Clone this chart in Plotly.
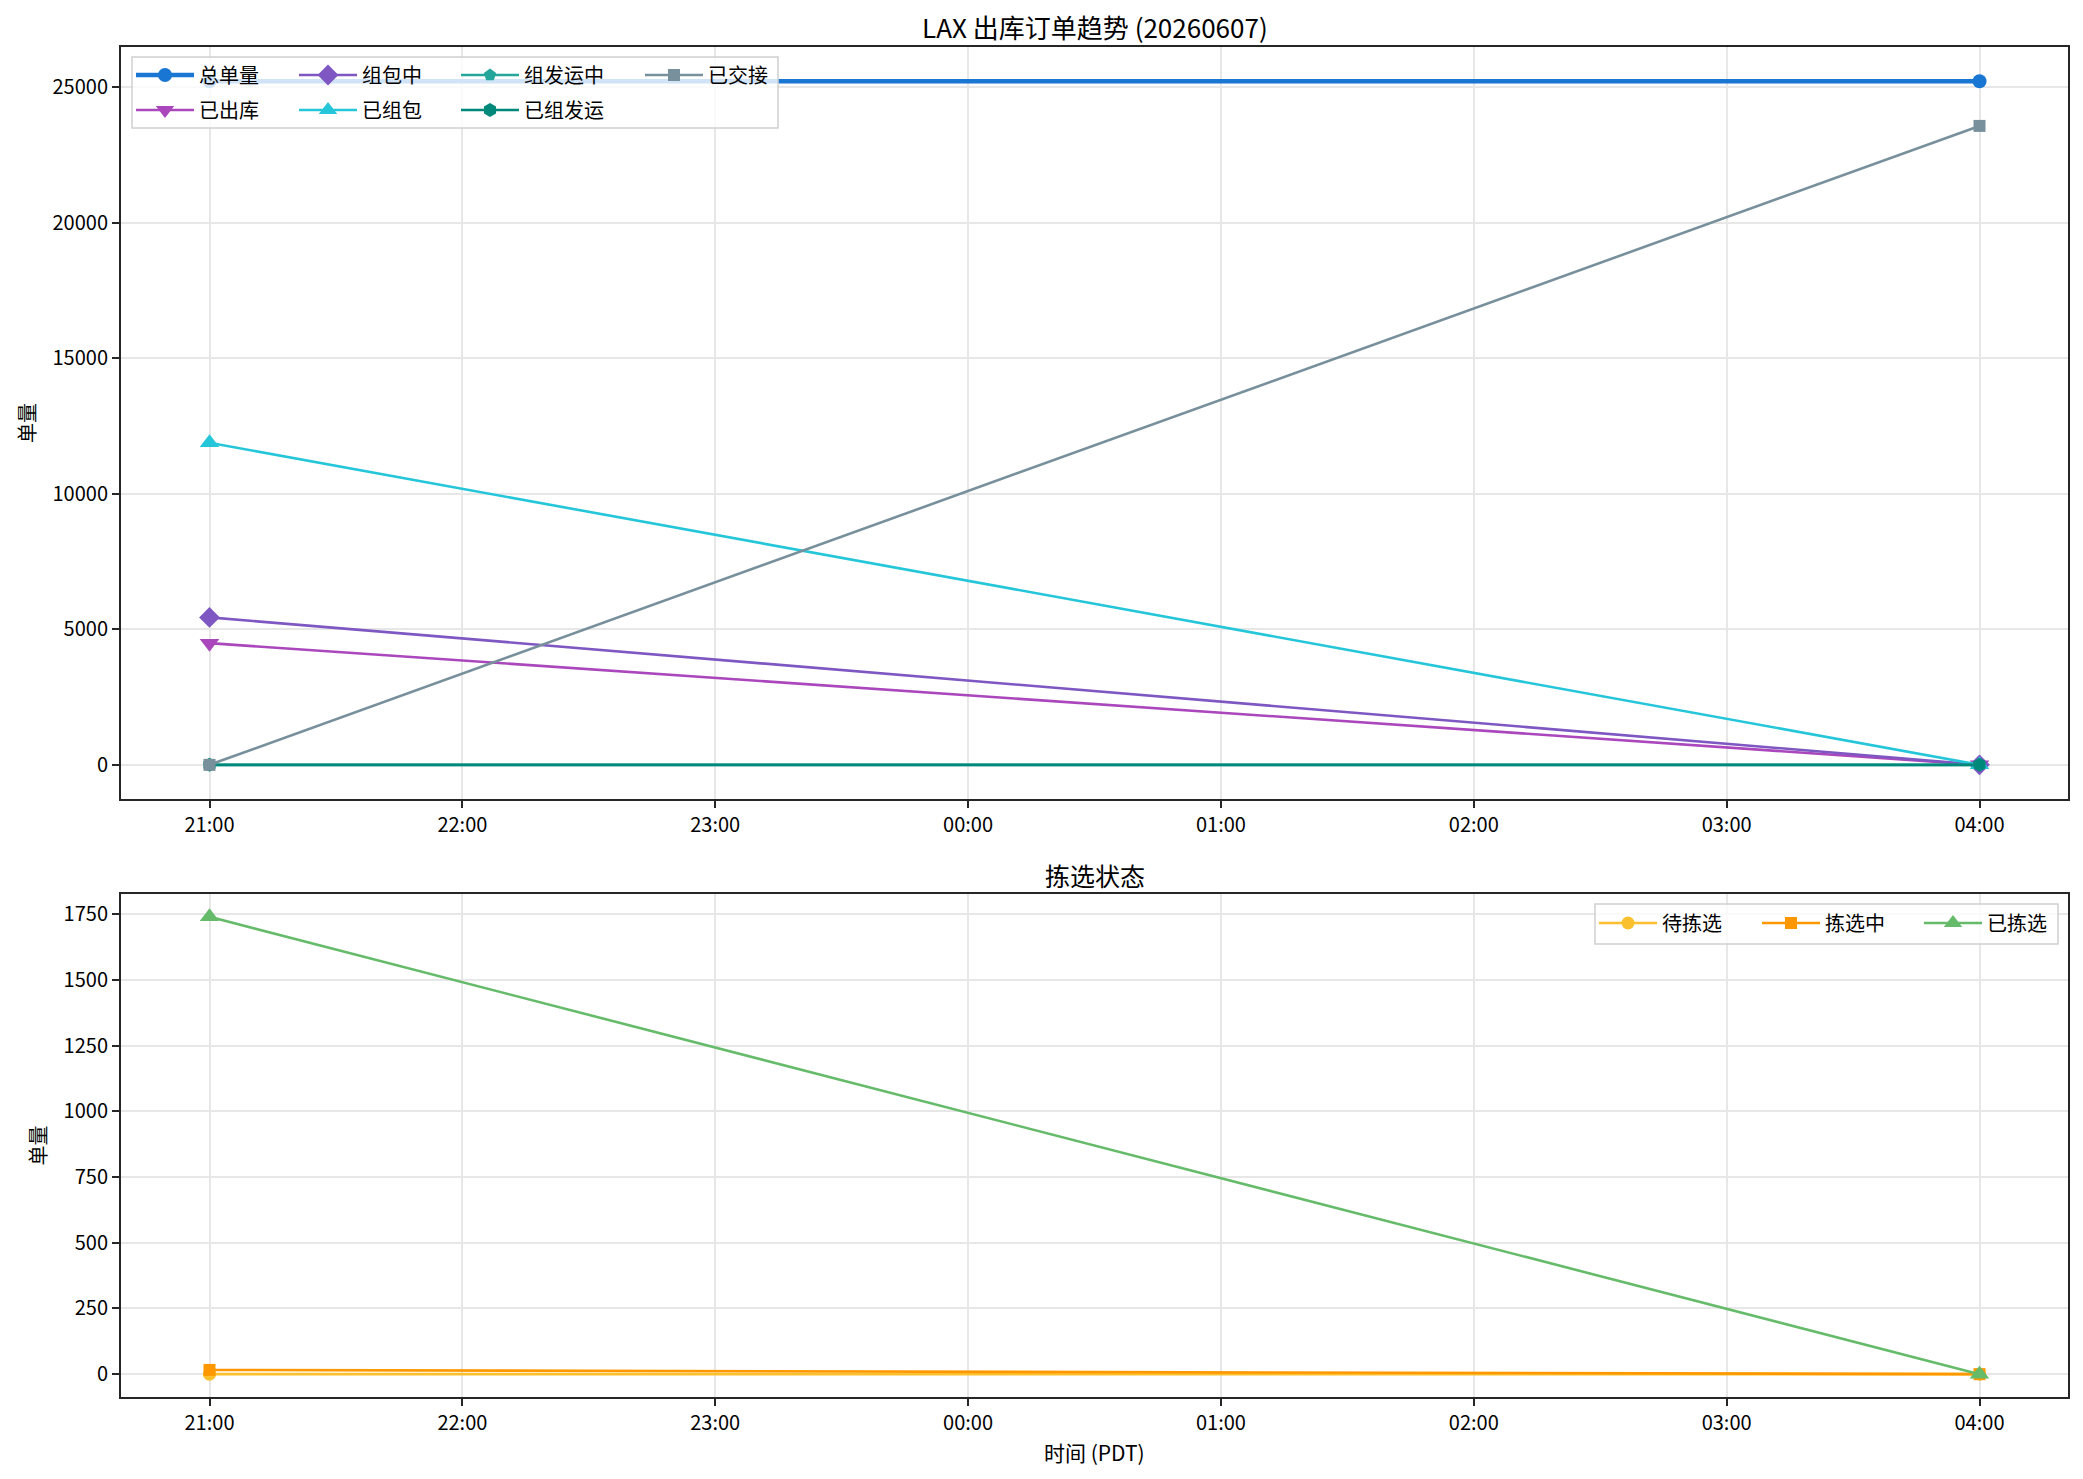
import plotly.graph_objects as go
from plotly.subplots import make_subplots

# ---- data ----
times = ["2026-06-07 21:00", "2026-06-08 04:00"]

top_names = ["总单量", "已出库", "组包中", "已组包", "组发运中", "已组发运", "已交接"]
total_orders = [25220, 25220]
shipped_out = [4490, 0]
packing = [5440, 0]
packed = [11880, 0]
group_shipping = [0, 0]
group_shipped = [0, 0]
handed_over = [0, 23570]

pick_names = ["待拣选", "拣选中", "已拣选"]
to_pick = [0, 0]
picking = [16, 0]
picked = [1740, 0]

# ---- styling ----
W, H = 2083, 1479
AX_L, AX_R, AX_T, AX_B = 121, 2068, 47, 1397
FONT = "Noto Sans CJK SC"
TEXT = "#000000"
GRID = "#e7e7e7"
FRAME = "#262626"


def px_x(p):
    return (p - AX_L) / (AX_R - AX_L)


def px_y(p):
    return (AX_B - p) / (AX_B - AX_T)


top_series = [
    (total_orders, "#1976D2", "circle", 4.5, 14),
    (shipped_out, "#AB47BC", "triangle-down", 2.6, 17),
    (packing, "#7E57C2", "diamond", 2.6, 16),
    (packed, "#26C6DA", "triangle-up", 2.6, 17),
    (group_shipping, "#26A69A", "pentagon", 2.6, 13),
    (group_shipped, "#00897B", "hexagon", 2.6, 14),
    (handed_over, "#78909C", "square", 2.6, 12),
]
pick_series = [
    (to_pick, "#FBC02D", "circle", 2.6, 13),
    (picking, "#FF9800", "square", 2.6, 12),
    (picked, "#66BB6A", "triangle-up", 2.6, 17),
]

# legend slots (symbol start px, row center px), matplotlib fills columns first
top_slots = [(139, 75), (139, 110), (302, 75), (302, 110), (464, 75), (464, 110), (648, 75)]
pick_slots = [(1602, 923), (1765, 923), (1927, 923)]

fig = make_subplots(rows=2, cols=1)

legends = {}
k = 0
for (vals, color, sym, lw, ms), name, slot in zip(top_series, top_names, top_slots):
    k += 1
    lname = "legend" if k == 1 else f"legend{k}"
    fig.add_trace(
        go.Scatter(
            x=times, y=vals, name=name, mode="lines+markers",
            line=dict(color=color, width=lw),
            marker=dict(symbol=sym, size=ms, color=color),
            legend=lname,
        ),
        row=1, col=1,
    )
    legends[lname] = slot

for (vals, color, sym, lw, ms), name, slot in zip(pick_series, pick_names, pick_slots):
    k += 1
    lname = f"legend{k}"
    fig.add_trace(
        go.Scatter(
            x=times, y=vals, name=name, mode="lines+markers",
            line=dict(color=color, width=lw),
            marker=dict(symbol=sym, size=ms, color=color),
            legend=lname,
        ),
        row=2, col=1,
    )
    legends[lname] = slot

for lname, (sx, sy) in legends.items():
    fig.update_layout({
        lname: dict(
            x=px_x(sx - 8), y=px_y(sy), xanchor="left", yanchor="middle",
            xref="paper", yref="paper",
            bgcolor="rgba(0,0,0,0)", borderwidth=0,
            font=dict(family=FONT, size=20, color=TEXT),
            itemwidth=58,
        )
    })

axis_common = dict(
    showline=True, mirror=True, linecolor=FRAME, linewidth=2,
    showgrid=True, gridcolor=GRID, gridwidth=1.5,
    zeroline=False, ticks="outside", ticklen=7, tickwidth=1.7, tickcolor=FRAME,
    tickfont=dict(family=FONT, size=20, color=TEXT),
)

x_range = ["2026-06-07 20:39", "2026-06-08 04:21"]
for r in (1, 2):
    fig.update_xaxes(
        type="date", range=x_range, dtick=3600000, tickformat="%H:%M",
        tick0="2026-06-07 21:00", row=r, col=1, **axis_common,
    )

fig.update_yaxes(range=[-1260, 26481], dtick=5000, tickformat="d", row=1, col=1, **axis_common)
fig.update_yaxes(range=[-87, 1827], dtick=250, tickformat="d", row=2, col=1, **axis_common)
fig.update_yaxes(
    title=dict(text="单量", font=dict(family=FONT, size=20, color=TEXT), standoff=12),
)

fig.update_layout(
    xaxis=dict(domain=[0, 1], anchor="y"),
    yaxis=dict(domain=[px_y(799), 1]),
    xaxis2=dict(domain=[0, 1], anchor="y2"),
    yaxis2=dict(domain=[0, px_y(894)]),
)

# legend frames (drawn over the lines, like matplotlib's translucent legend box)
fig.add_shape(
    type="rect", xref="paper", yref="paper",
    x0=px_x(132), x1=px_x(778), y0=px_y(128), y1=px_y(57),
    fillcolor="rgba(255,255,255,0.8)", line=dict(color="#d0d0d0", width=1.5),
    layer="above",
)
fig.add_shape(
    type="rect", xref="paper", yref="paper",
    x0=px_x(1595), x1=px_x(2058), y0=px_y(944), y1=px_y(904),
    fillcolor="rgba(255,255,255,0.8)", line=dict(color="#d0d0d0", width=1.5),
    layer="above",
)

fig.add_annotation(
    text="LAX 出库订单趋势 (20260607)", xref="paper", yref="paper",
    x=0.5, y=px_y(27), xanchor="center", yanchor="middle", showarrow=False,
    font=dict(family=FONT, size=26, color=TEXT),
)
fig.add_annotation(
    text="拣选状态", xref="paper", yref="paper",
    x=0.5, y=px_y(875), xanchor="center", yanchor="middle", showarrow=False,
    font=dict(family=FONT, size=25, color=TEXT),
)
fig.add_annotation(
    text="时间 (PDT)", xref="paper", yref="paper",
    x=0.5, y=px_y(1452), xanchor="center", yanchor="middle", showarrow=False,
    font=dict(family=FONT, size=21, color=TEXT),
)

fig.update_layout(
    width=W, height=H,
    margin=dict(l=AX_L, r=W - AX_R, t=AX_T, b=H - AX_B, autoexpand=False),
    paper_bgcolor="white", plot_bgcolor="white",
    font=dict(family=FONT, color=TEXT),
    showlegend=True,
)

fig.write_html(
    "out.html",
    config={"displayModeBar": False},
    post_script="document.body.style.margin='0';document.body.style.overflow='hidden';",
)
